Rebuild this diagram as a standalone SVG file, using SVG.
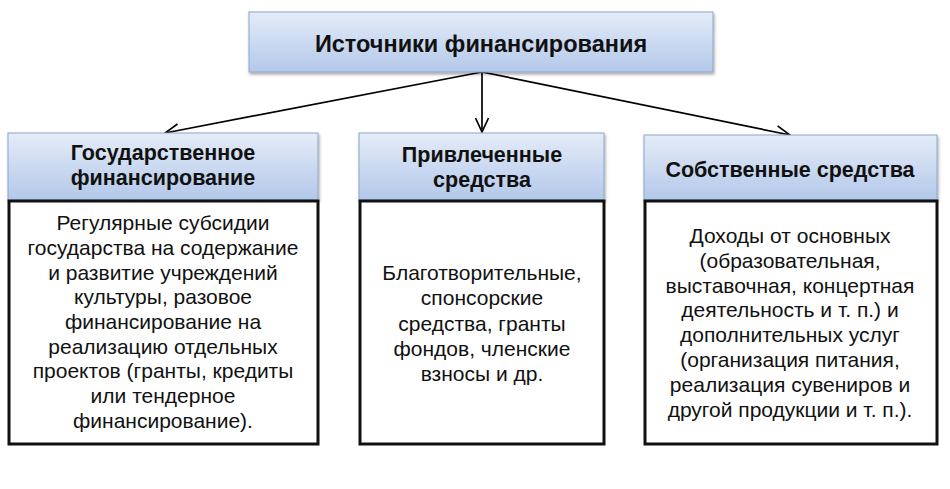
<svg xmlns="http://www.w3.org/2000/svg" width="950" height="489" viewBox="0 0 950 489">
<defs>
<linearGradient id="hg" x1="0" y1="0" x2="0" y2="1">
<stop offset="0" stop-color="#e4ecf8"/>
<stop offset="1" stop-color="#b3c8ea"/>
</linearGradient>
<filter id="sh" x="-5%" y="-10%" width="110%" height="130%">
<feDropShadow dx="1" dy="2" stdDeviation="1.5" flood-color="#000" flood-opacity="0.35"/>
</filter>
<marker id="ah" viewBox="0 0 16 16" refX="15" refY="8" markerWidth="16" markerHeight="16" markerUnits="userSpaceOnUse" orient="auto">
<path d="M1,1.5 L15,8 L1,14.5" fill="none" stroke="#000" stroke-width="1.7"/>
</marker>
<style>
.hdr{fill:url(#hg);stroke:#8ea6c8;stroke-width:1;filter:url(#sh)}
.body{fill:#fff;stroke:#111;stroke-width:3}
.ht{font-family:"Liberation Sans",Arial,sans-serif;font-weight:bold;font-size:21.5px;fill:#111;text-anchor:middle}
.tt{font-family:"Liberation Sans",Arial,sans-serif;font-weight:bold;font-size:23.5px;fill:#111;text-anchor:middle}
.bt{font-family:"Liberation Sans",Arial,sans-serif;font-size:21px;fill:#111;text-anchor:middle}
.cn{stroke:#000;stroke-width:1.7;fill:none}
</style>
</defs>
<rect width="950" height="489" fill="#fff"/>
<g id="connectors">
<line class="cn" x1="482" y1="72" x2="165" y2="133" marker-end="url(#ah)"/>
<line class="cn" x1="482" y1="72" x2="482" y2="132" marker-end="url(#ah)"/>
<line class="cn" x1="482" y1="72" x2="790" y2="135" marker-end="url(#ah)"/>
</g>
<g id="root">
<rect class="hdr" x="249" y="12" width="464" height="60"/>
<text class="tt" x="481" y="52">Источники финансирования</text>
</g>
<g id="gov">
<rect class="hdr" x="8" y="133" width="310" height="67"/>
<text class="ht" x="163" y="160">Государственное</text>
<text class="ht" x="163" y="185">финансирование</text>
<rect class="body" x="9" y="201" width="309" height="243"/>
<text class="bt" x="163" y="230">Регулярные субсидии</text>
<text class="bt" x="163" y="255">государства на содержание</text>
<text class="bt" x="163" y="280">и развитие учреждений</text>
<text class="bt" x="163" y="304">культуры, разовое</text>
<text class="bt" x="163" y="329">финансирование на</text>
<text class="bt" x="163" y="354">реализацию отдельных</text>
<text class="bt" x="163" y="378">проектов (гранты, кредиты</text>
<text class="bt" x="163" y="403">или тендерное</text>
<text class="bt" x="163" y="428">финансирование).</text>
</g>
<g id="attracted">
<rect class="hdr" x="359" y="133" width="245" height="67"/>
<text class="ht" x="482" y="162">Привлеченные</text>
<text class="ht" x="482" y="187">средства</text>
<rect class="body" x="360" y="201" width="244" height="243"/>
<text class="bt" x="482" y="280">Благотворительные,</text>
<text class="bt" x="482" y="305">спонсорские</text>
<text class="bt" x="482" y="331">средства, гранты</text>
<text class="bt" x="482" y="356">фондов, членские</text>
<text class="bt" x="482" y="381">взносы и др.</text>
</g>
<g id="own">
<rect class="hdr" x="644" y="135" width="293" height="65"/>
<text class="ht" x="790" y="177">Собственные средства</text>
<rect class="body" x="645" y="201" width="292" height="243"/>
<text class="bt" x="790" y="243">Доходы от основных</text>
<text class="bt" x="790" y="268">(образовательная,</text>
<text class="bt" x="790" y="293">выставочная, концертная</text>
<text class="bt" x="790" y="317">деятельность и т. п.) и</text>
<text class="bt" x="790" y="342">дополнительных услуг</text>
<text class="bt" x="790" y="367">(организация питания,</text>
<text class="bt" x="790" y="392">реализация сувениров и</text>
<text class="bt" x="790" y="417">другой продукции и т. п.).</text>
</g>
</svg>
